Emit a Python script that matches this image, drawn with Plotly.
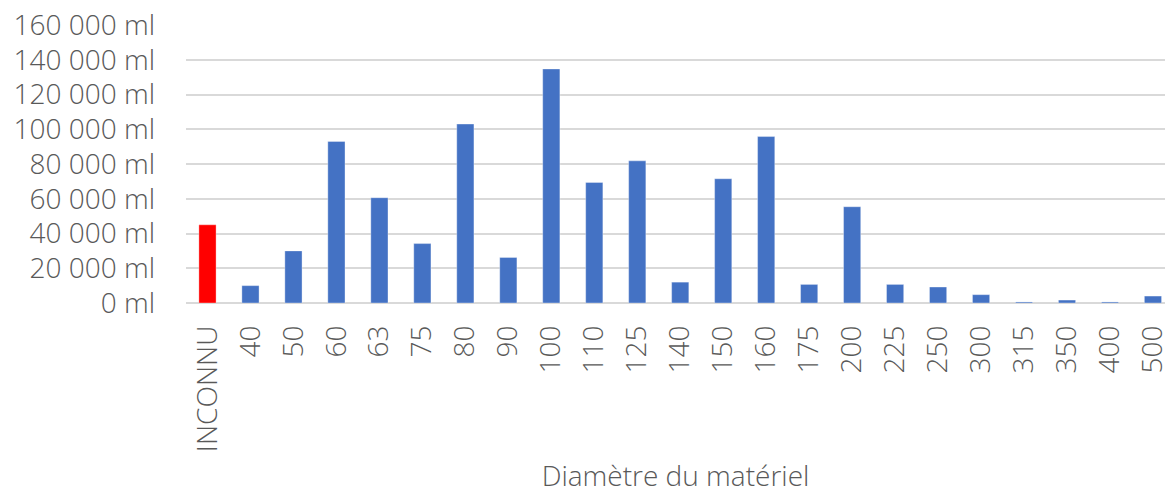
import plotly.graph_objects as go

# Diameter categories and measured lengths (ml)
diametres = ["INCONNU", "40", "50", "60", "63", "75", "80", "90", "100", "110",
             "125", "140", "150", "160", "175", "200", "225", "250", "300",
             "315", "350", "400", "500"]
longueurs = [45000, 10000, 30000, 93000, 60600, 34200, 103000, 26200, 134700,
             69400, 81800, 12000, 71500, 95800, 10700, 55400, 10700, 9200,
             4800, 600, 1700, 600, 4000]

# Value axis ticks
y_ticks = [0, 20000, 40000, 60000, 80000, 100000, 120000, 140000, 160000]
y_tick_labels = ["0 ml", "20 000 ml", "40 000 ml", "60 000 ml", "80 000 ml",
                 "100 000 ml", "120 000 ml", "140 000 ml", "160 000 ml"]

BLUE = "#4472C4"
RED = "#FF0000"
GREY_TEXT = "#595959"
GRID = "#D9D9D9"
FONT = "Open Sans"
WEIGHT = 300

colors = [RED if d == "INCONNU" else BLUE for d in diametres]

fig = go.Figure(
    go.Bar(
        x=diametres,
        y=longueurs,
        marker=dict(color=colors, line=dict(color="rgba(255,255,255,0.35)", width=1)),
        hoverinfo="x+y",
    )
)

fig.update_layout(
    width=1170,
    height=494,
    margin=dict(l=186, r=0, t=25, b=190),
    paper_bgcolor="white",
    plot_bgcolor="white",
    showlegend=False,
    bargap=0.6,
    font=dict(family=FONT, size=28, color=GREY_TEXT, weight=WEIGHT),
)

fig.update_xaxes(
    type="category",
    range=[-0.5, 22.28],
    tickangle=-90,
    ticklabelstandoff=16,
    showgrid=False,
    showline=False,
    zeroline=False,
    tickfont=dict(family=FONT, size=28, color=GREY_TEXT, weight=WEIGHT),
    title=dict(text="Diamètre du matériel", standoff=22,
               font=dict(family=FONT, size=28, color=GREY_TEXT, weight=WEIGHT)),
)

fig.update_yaxes(
    range=[0, 160000],
    tickmode="array",
    tickvals=y_ticks,
    ticktext=y_tick_labels,
    ticklabelstandoff=30,
    showgrid=True,
    gridcolor=GRID,
    gridwidth=1.6,
    zeroline=True,
    zerolinecolor=GRID,
    zerolinewidth=1.6,
    showline=False,
    tickfont=dict(family=FONT, size=28, color=GREY_TEXT, weight=WEIGHT),
)

fig.write_html("out.html")
